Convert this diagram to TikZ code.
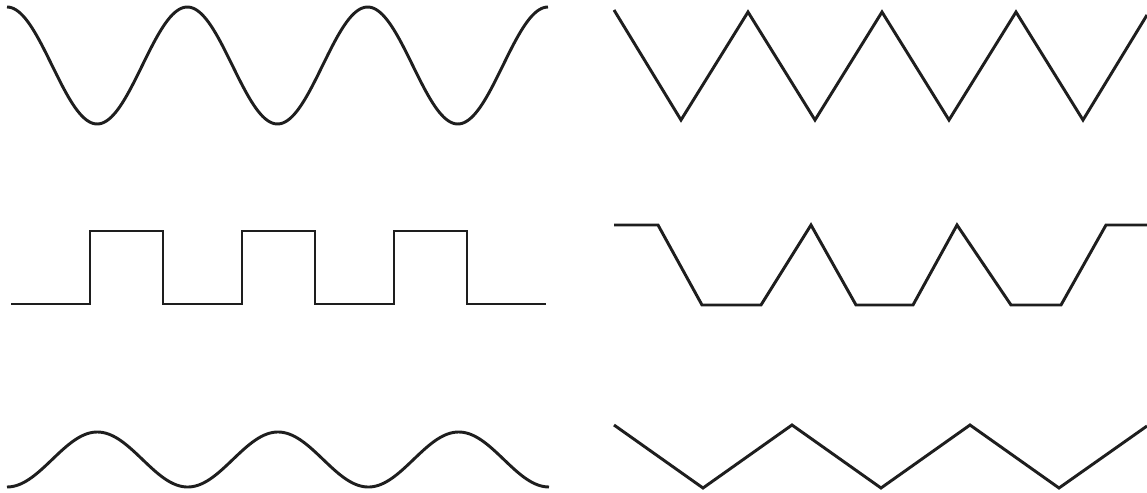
\documentclass[tikz,border=0pt]{standalone}
\definecolor{wavegray}{HTML}{1E1E1E}
\begin{document}
\begin{tikzpicture}[x=0.75pt,y=-0.75pt,
  wave/.style={draw=wavegray,line width=2.2pt}]
\useasboundingbox (0,0) rectangle (1147,493);
\draw[wave] plot[domain=7:548,samples=240] (\x,{65.5-58.5*cos(((\x-7)/180.33)*360)});
\draw[wave] (614,10) -- (681,120) -- (748,12) -- (815,120) -- (882,12) -- (949,120) -- (1016,12) -- (1083,120) -- (1147,15);
\draw[wave] (11,304) -- (90,304) -- (90,231) -- (163,231) -- (163,304) -- (242,304) -- (242,231) -- (315,231) -- (315,304) -- (394,304) -- (394,231) -- (467,231) -- (467,304) -- (546,304);
\draw[wave] (614,225) -- (658,225) -- (702,305) -- (761,305) -- (811,225) -- (856,305) -- (913,305) -- (957,225) -- (1011,305) -- (1061,305) -- (1106,225) -- (1147,225);
\draw[wave] plot[domain=7:549,samples=240] (\x,{459.5+27.5*cos(((\x-7)/180.67)*360)});
\draw[wave] (614,425) -- (703,488) -- (792,425) -- (881,488) -- (970,425) -- (1059,488) -- (1147,426);
\end{tikzpicture}
\end{document}
